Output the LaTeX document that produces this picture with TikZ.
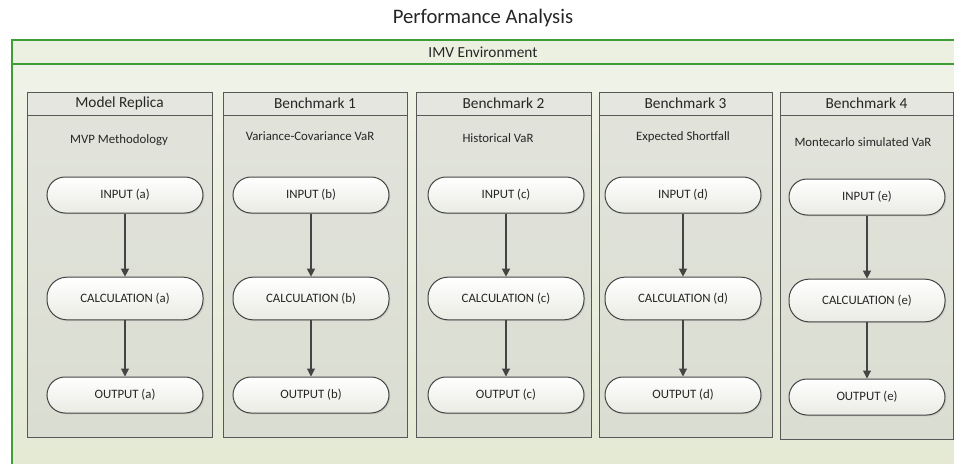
\documentclass[tikz,border=0pt]{standalone}
\usepackage{fontspec}
\setmainfont{Carlito}
\usetikzlibrary{arrows.meta,shadows}
\definecolor{envgreen}{RGB}{60,158,52}
\definecolor{envtop}{RGB}{240,243,232}
\definecolor{envbot}{RGB}{228,233,212}
\definecolor{envband}{RGB}{236,240,224}
\definecolor{lanehead}{RGB}{229,230,223}
\definecolor{lanetop}{RGB}{226,228,220}
\definecolor{lanebot}{RGB}{218,221,209}
\definecolor{laneline}{RGB}{88,88,88}
\definecolor{stepline}{RGB}{68,68,68}
\definecolor{stepbot}{RGB}{234,235,228}
\tikzset{
  lane/.style={draw=laneline, line width=0.75pt, top color=lanetop, bottom color=lanebot,
    drop shadow={shadow xshift=1pt, shadow yshift=-1pt, opacity=0.25}},
  lanehdr/.style={draw=laneline, line width=0.75pt, fill=lanehead},
  lanetitle/.style={font=\fontsize{11.5}{13}\selectfont, text=black!85},
  lanesub/.style={font=\fontsize{9.6}{11}\selectfont, text=black!85},
  stepbox/.style={draw=stepline, line width=0.75pt, rounded corners=13.5pt,
    top color=white, bottom color=stepbot, minimum width=117pt, minimum height=27pt,
    font=\fontsize{9.6}{11}\selectfont, text=black!85,
    drop shadow={shadow xshift=1pt, shadow yshift=-1pt, opacity=0.2}},
  calcbox/.style={stepbox, minimum height=32pt, rounded corners=15pt},
  flow/.style={draw=stepline, line width=0.8pt, -{Triangle[length=6pt,width=6pt]}}
}

\begin{document}
\begin{tikzpicture}[x=0.75pt, y=-0.75pt]
  \useasboundingbox (0,0) rectangle (954,464);
  \clip (0,0) rectangle (954,464);
  \fill[white] (0,0) rectangle (954,464);

  \node[font=\fontsize{15.5}{18}\selectfont, text=black!85] (title) at (483,18) {Performance Analysis};

  % environment frame with its header band
  \draw[envgreen, line width=1.2pt, top color=envtop, bottom color=envbot] (12,40) rectangle (975,480);
  \draw[envgreen, line width=1.2pt, fill=envband] (12,40) rectangle (975,64);
  \node[lanetitle] (env) at (483,52) {IMV Environment};

  \foreach \xa/\xb/\c/\sx/\sy/\dy/\l/\name/\sub in {
      27/212/125/119/140/0/a/Model Replica/MVP Methodology,
      223/407/311/310/136/0/b/Benchmark 1/Variance-Covariance VaR,
      416/591/506/498/138/0/c/Benchmark 2/Historical VaR,
      599/772/683/683/137/0/d/Benchmark 3/Expected Shortfall,
      780/953/867/863/142/2/e/Benchmark 4/Montecarlo simulated VaR} {
    \draw[lane] (\xa,92) rectangle (\xb,437+\dy);
    \draw[lanehdr] (\xa,92) rectangle (\xb,115);
    \node[lanetitle] (head\l) at ({(\xa+\xb)/2},103.5) {\name};
    \node[lanesub] (sub\l) at (\sx,\sy) {\sub};
    \node[stepbox] (in\l) at (\c,195+\dy) {INPUT (\l)};
    \node[calcbox] (calc\l) at (\c,298.5+\dy) {CALCULATION (\l)};
    \node[stepbox] (out\l) at (\c,395+\dy) {OUTPUT (\l)};
    \draw[flow] (in\l) -- (calc\l);
    \draw[flow] (calc\l) -- (out\l);
  }
\end{tikzpicture}
\end{document}
